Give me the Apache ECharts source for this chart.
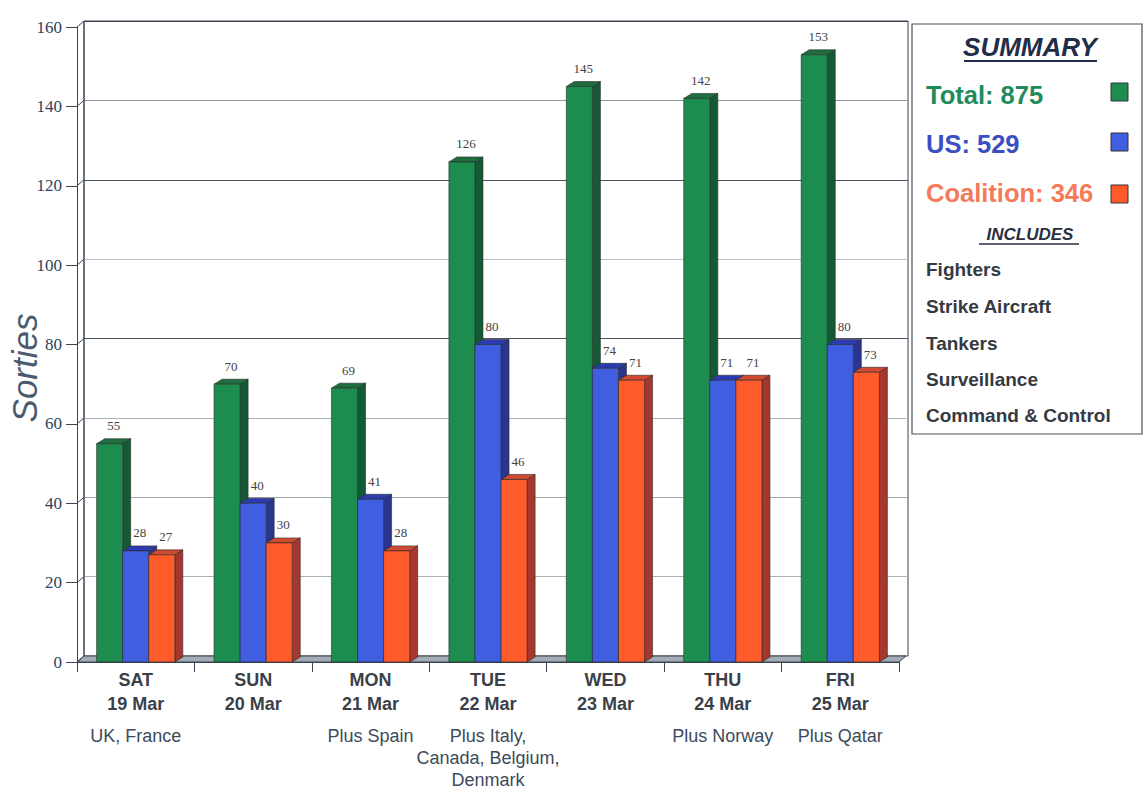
<!DOCTYPE html>
<html>
<head>
<meta charset="utf-8">
<script src="https://cdn.jsdelivr.net/npm/echarts@6/dist/echarts.min.js"></script>
<style>
html,body{margin:0;padding:0;background:#fff;}
#chart{width:1143px;height:790px;}
</style>
</head>
<body>
<div id="chart"></div>
<script>
// ---- data ----
const days = ['SAT','SUN','MON','TUE','WED','THU','FRI'];
const dates = ['19 Mar','20 Mar','21 Mar','22 Mar','23 Mar','24 Mar','25 Mar'];
const notes = ['UK, France','','Plus Spain','Plus Italy,\nCanada, Belgium,\nDenmark','','Plus Norway','Plus Qatar'];
const totalSorties = [55,70,69,126,145,142,153];
const usSorties = [28,40,41,80,74,71,80];
const coalitionSorties = [27,30,28,46,71,71,73];
const yMin = 0, yMax = 160, yStep = 20;
const summaryTitle = 'SUMMARY';
const summaryLines = ['Total: 875','US: 529','Coalition: 346'];
const includesTitle = 'INCLUDES';
const includesList = ['Fighters','Strike Aircraft','Tankers','Surveillance','Command & Control'];
const axisName = 'Sorties';

// ---- styles ----
const palettes = [
  {front:'#1d8c4f', side:'#145a34', top:'#1f6e40', text:'#1f8a5a'},
  {front:'#3f5fe0', side:'#2a3592', top:'#2c3cb0', text:'#3a4fc0'},
  {front:'#ff5a2a', side:'#a5372c', top:'#cf4a30', text:'#f47a5a'}
];
const DX = 8, DY = -5, WDX = 7, WDY = -6;
const BAR_FRAC = 0.222;

function barRenderer(idx, cols){
  return function(params, api){
    const c = api.value(0), v = api.value(1);
    const p0 = api.coord([c, 0]), p1 = api.coord([c, v]);
    const catW = api.size([1, 0])[0];
    const bw = catW * BAR_FRAC;
    const x0 = p0[0] - 1.5 * bw + idx * bw;
    const yb = p0[1], yt = p1[1];
    const edge = {stroke:'#2a2a2a', lineWidth:0.6};
    return {type:'group', children:[
      {type:'polygon', shape:{points:[[x0+bw,yt],[x0+bw+DX,yt+DY],[x0+bw+DX,yb+DY],[x0+bw,yb]]},
        style:Object.assign({fill:cols.side}, edge)},
      {type:'polygon', shape:{points:[[x0,yt],[x0+DX,yt+DY],[x0+bw+DX,yt+DY],[x0+bw,yt]]},
        style:Object.assign({fill:cols.top}, edge)},
      {type:'rect', shape:{x:x0, y:yt, width:bw, height:yb-yt},
        style:Object.assign({fill:cols.front}, edge)},
      {type:'text', x:x0+bw/2+DX/2, y:yt+DY-13,
        style:{text:String(v), fill:'#444', font:'13px "Liberation Serif", serif', align:'center', verticalAlign:'middle'}}
    ]};
  };
}

function floorRenderer(params, api){
  const cs = params.coordSys;
  const xL = cs.x, xR = cs.x + cs.width, yb = cs.y + cs.height;
  const children = [
    {type:'polygon', shape:{points:[[xL,yb],[xR,yb],[xR+WDX,yb+WDY],[xL+WDX,yb+WDY]]},
      style:{fill:'#a3acb6', stroke:'#3a4452', lineWidth:1}}
  ];
  for (let t = yMin; t <= yMax; t += yStep){
    const p = api.coord([0, t]);
    children.push({type:'line', shape:{x1:xL, y1:p[1], x2:xL+WDX, y2:p[1]+WDY},
      style:{stroke:'#3a4452', lineWidth:1}});
  }
  children.push({type:'line', shape:{x1:xL+WDX, y1:cs.y+WDY, x2:xL+WDX, y2:yb+WDY}, style:{stroke:'#3a4452', lineWidth:1}});
  return {type:'group', children:children};
}

function xLabel(val, idx){
  let s = '{d|' + days[idx] + '}\n{d|' + dates[idx] + '}\n{s| }';
  if (notes[idx]) {
    notes[idx].split('\n').forEach(function(l){ s += '\n{n|' + l + '}'; });
  }
  return s;
}

const chart = echarts.init(document.getElementById('chart'), null, {renderer:'svg'});

const legendX = 926;
const graphics = [
  {type:'rect', shape:{x:912, y:24, width:230, height:410}, style:{fill:'#fff', stroke:'#4a4f57', lineWidth:1.2}, z:0},
  {type:'text', x:1030, y:47, style:{text:summaryTitle, font:'italic bold 26px "Liberation Sans", Arial, sans-serif', fill:'#1f2d48', align:'center', verticalAlign:'middle'}},
  {type:'line', shape:{x1:964, y1:61, x2:1097, y2:61}, style:{stroke:'#1f2d48', lineWidth:2}},
  {type:'text', x:1030, y:234, style:{text:includesTitle, font:'italic bold 17px "Liberation Sans", Arial, sans-serif', fill:'#2a3040', align:'center', verticalAlign:'middle'}},
  {type:'line', shape:{x1:979, y1:244, x2:1079, y2:244}, style:{stroke:'#2a3040', lineWidth:1.5}},
  {type:'text', x:24, y:368, rotation:Math.PI/2, style:{text:axisName, font:'italic 35px "Liberation Sans", Arial, sans-serif', fill:'#4b5a6e', align:'center', verticalAlign:'middle'}}
];
const summaryY = [95, 144, 193];
const squareY = [92, 142, 194];
summaryLines.forEach(function(t, i){
  graphics.push({type:'text', x:legendX, y:summaryY[i], style:{text:t, font:'bold 25.5px "Liberation Sans", Arial, sans-serif', fill:palettes[i].text, align:'left', verticalAlign:'middle'}});
  graphics.push({type:'rect', shape:{x:1111, y:squareY[i]-9, width:17, height:18}, style:{fill:palettes[i].front, stroke:'#333', lineWidth:1}});
});
const incY = [269, 306, 343, 379, 415];
includesList.forEach(function(t, i){
  graphics.push({type:'text', x:legendX, y:incY[i], style:{text:t, font:'bold 19px "Liberation Sans", Arial, sans-serif', fill:'#353a42', align:'left', verticalAlign:'middle'}});
});

const option = {
  backgroundColor:'#ffffff',
  animation:false,
  grid:[
    {left:77, right:244, top:27, bottom:128},
    {left:77+WDX, right:244-WDX-2, top:27+WDY, bottom:128-WDY, show:true, borderColor:'#3a4452', borderWidth:1}
  ],
  xAxis:[
    {type:'category', gridIndex:0, data:days, boundaryGap:true,
      axisLine:{show:true, lineStyle:{color:'#3a4452', width:1}},
      axisTick:{show:true, length:10, lineStyle:{color:'#3a4452'}},
      axisLabel:{margin:6, interval:0, formatter:xLabel,
        rich:{
          d:{fontFamily:'"Liberation Sans", Arial, sans-serif', fontWeight:'bold', fontSize:18, color:'#3a3f4a', lineHeight:24, align:'center'},
          s:{fontSize:4, lineHeight:9},
          n:{fontFamily:'"Liberation Sans", Arial, sans-serif', fontSize:18, color:'#3d4a5c', lineHeight:22, align:'center'}
        }}
    },
    {type:'category', gridIndex:1, data:days, show:false}
  ],
  yAxis:[
    {type:'value', gridIndex:0, min:yMin, max:yMax, interval:yStep,
      axisLine:{show:true, lineStyle:{color:'#3a4452', width:1}},
      axisTick:{show:true, length:11, lineStyle:{color:'#3a4452'}},
      axisLabel:{margin:15, color:'#2d3f5c', fontFamily:'"Liberation Serif", serif', fontSize:17},
      splitLine:{show:false}
    },
    {type:'value', gridIndex:1, min:yMin, max:yMax, interval:yStep,
      axisLine:{show:false}, axisTick:{show:false}, axisLabel:{show:false},
      splitLine:{show:true, lineStyle:{width:1, color:['#9aa2ab','#aab1b9','#a0a8b0','#aab1b9','#4a5462','#b9c0c7','#4a5462','#8f98a3','#3a4452']}}
    }
  ],
  series:[
    {type:'custom', xAxisIndex:0, yAxisIndex:0, renderItem:floorRenderer, data:[[0,0]], z:1, silent:true},
    {type:'custom', name:'Total', xAxisIndex:0, yAxisIndex:0, renderItem:barRenderer(0, palettes[0]), data:totalSorties.map(function(v,i){return [i,v];}), z:2},
    {type:'custom', name:'US', xAxisIndex:0, yAxisIndex:0, renderItem:barRenderer(1, palettes[1]), data:usSorties.map(function(v,i){return [i,v];}), z:3},
    {type:'custom', name:'Coalition', xAxisIndex:0, yAxisIndex:0, renderItem:barRenderer(2, palettes[2]), data:coalitionSorties.map(function(v,i){return [i,v];}), z:4}
  ],
  graphic:graphics
};
chart.setOption(option);
</script>
</body>
</html>
